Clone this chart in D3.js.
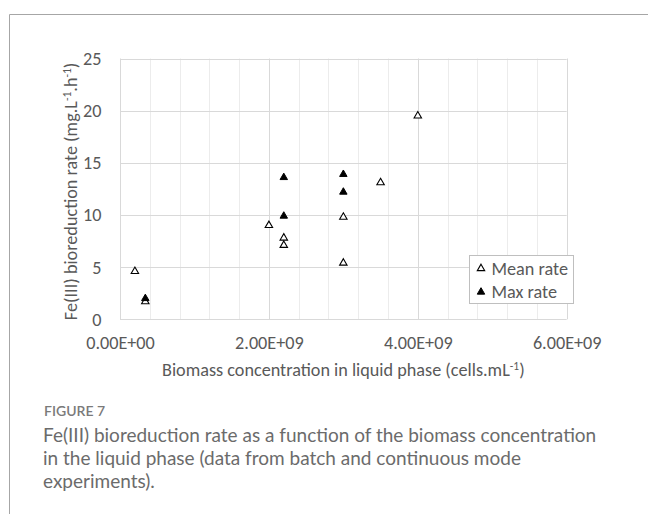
<!DOCTYPE html>
<html>
<head>
<meta charset="utf-8">
<script src="https://cdn.jsdelivr.net/npm/d3@7"></script>
<style>
  body { margin: 0; background: #fff; }
  svg { display: block; }
</style>
</head>
<body>
<svg width="648" height="514"></svg>
<script>
// data
var meanX = [2.0e8, 3.4e8, 2.0e9, 2.2e9, 2.2e9, 3.0e9, 3.0e9, 3.5e9, 4.0e9];
var meanY = [4.6, 1.7, 9.0, 7.8, 7.1, 9.8, 5.4, 13.1, 19.5];
var maxX = [3.4e8, 2.2e9, 2.2e9, 3.0e9, 3.0e9];
var maxY = [2.0, 13.6, 9.9, 13.9, 12.2];
var xTicks = [0, 2e9, 4e9, 6e9];
var yTicks = [0, 5, 10, 15, 20, 25];
var seriesNames = ["Mean rate", "Max rate"];
var captionLines = [
  "Fe(III) bioreduction rate as a function of the biomass concentration",
  "in the liquid phase (data from batch and continuous mode",
  "experiments)."
];

var svg = d3.select("svg");
var chartFont = "Carlito, Calibri, 'Open Sans', sans-serif";

// outer frame (top and left rule)
svg.append("path")
  .attr("d", "M9.5,514 V14.5 H648")
  .attr("fill", "none")
  .attr("stroke", "#a6a6a6")
  .attr("stroke-width", 1);

var x = d3.scaleLinear().domain([0, 6e9]).range([120, 566.7]);
var y = d3.scaleLinear().domain([0, 25]).range([319.3, 58.5]);

var g = svg.append("g");

// minor vertical grid every 4e8
var minor = d3.range(0, 6e9 + 1, 4e8).filter(function(v) { return v % 2e9 !== 0; });
g.selectAll(".minor")
  .data(minor)
  .enter()
  .append("line")
  .attr("x1", function(d) { return Math.round(x(d)) + 0.5; })
  .attr("x2", function(d) { return Math.round(x(d)) + 0.5; })
  .attr("y1", y(25))
  .attr("y2", y(0))
  .attr("stroke", "#ececec");

// major grid
g.selectAll(".vmajor")
  .data(xTicks)
  .enter()
  .append("line")
  .attr("x1", function(d) { return Math.round(x(d)) + 0.5; })
  .attr("x2", function(d) { return Math.round(x(d)) + 0.5; })
  .attr("y1", y(25))
  .attr("y2", y(0))
  .attr("stroke", "#d9d9d9");

g.selectAll(".hmajor")
  .data(yTicks)
  .enter()
  .append("line")
  .attr("x1", x(0))
  .attr("x2", x(6e9))
  .attr("y1", function(d) { return Math.round(y(d)) + 0.5; })
  .attr("y2", function(d) { return Math.round(y(d)) + 0.5; })
  .attr("stroke", "#d9d9d9");

// axes (labels only)
var xAxis = d3.axisBottom(x).tickValues(xTicks).tickSize(0).tickPadding(0)
  .tickFormat(function(d) {
    var s = d.toExponential(2).toUpperCase();
    return s.replace(/E([+-])(\d)$/, "E$10$2");
  });
var yAxis = d3.axisLeft(y).tickValues(yTicks).tickSize(0).tickPadding(0);

var gx = svg.append("g").attr("transform", "translate(0," + (y(0) + 30) + ")").call(xAxis);
var gy = svg.append("g").attr("transform", "translate(101.5,0)").call(yAxis);
[gx, gy].forEach(function(a) {
  a.select(".domain").remove();
  a.selectAll("text")
    .style("font-family", chartFont)
    .style("font-size", "18.2px")
    .attr("fill", "#595959");
});
gx.selectAll("text").attr("dy", 0);
gy.selectAll("text").attr("dy", "0.33em");

// axis titles
var xt = svg.append("text")
  .attr("x", (x(0) + x(6e9)) / 2)
  .attr("y", 376)
  .attr("text-anchor", "middle")
  .attr("font-family", chartFont)
  .attr("font-size", 18.2)
  .attr("fill", "#595959");
xt.append("tspan").text("Biomass concentration in liquid phase (cells.mL");
xt.append("tspan").attr("dy", -6).attr("font-size", 11.5).text("-1");
xt.append("tspan").attr("dy", 6).text(")");

var yt = svg.append("text")
  .attr("transform", "translate(77," + ((y(0) + y(25)) / 2 + 2.5) + ") rotate(-90)")
  .attr("text-anchor", "middle")
  .attr("font-family", chartFont)
  .attr("font-size", 18.2)
  .attr("fill", "#595959");
yt.append("tspan").text("Fe(III) bioreduction rate (mg.L");
yt.append("tspan").attr("dy", -6).attr("font-size", 11.5).text("-1");
yt.append("tspan").attr("dy", 6).text(".h");
yt.append("tspan").attr("dy", -6).attr("font-size", 11.5).text("-1");
yt.append("tspan").attr("dy", 6).text(")");

// markers
var tri = d3.symbol().type(d3.symbolTriangle).size(24);

svg.append("g").selectAll("path")
  .data(meanX)
  .enter()
  .append("path")
  .attr("d", tri)
  .attr("transform", function(d, i) { return "translate(" + x(d) + "," + y(meanY[i]) + ")"; })
  .attr("fill", "#fff")
  .attr("stroke", "#000")
  .attr("stroke-width", 1.1);

svg.append("g").selectAll("path")
  .data(maxX)
  .enter()
  .append("path")
  .attr("d", tri)
  .attr("transform", function(d, i) { return "translate(" + x(d) + "," + y(maxY[i]) + ")"; })
  .attr("fill", "#000")
  .attr("stroke", "#000")
  .attr("stroke-width", 1);

// legend
var lg = svg.append("g").attr("transform", "translate(469.5,255.5)");
lg.append("rect")
  .attr("width", 104)
  .attr("height", 48)
  .attr("fill", "#fff")
  .attr("stroke", "#bfbfbf");
var rows = lg.selectAll(".row")
  .data(seriesNames)
  .enter()
  .append("g")
  .attr("transform", function(d, i) { return "translate(0," + (13 + i * 23.5) + ")"; });
rows.append("path")
  .attr("d", tri)
  .attr("transform", "translate(11.5,0)")
  .attr("fill", function(d, i) { return i === 0 ? "#fff" : "#000"; })
  .attr("stroke", "#000")
  .attr("stroke-width", function(d, i) { return i === 0 ? 1.1 : 1; });
rows.append("text")
  .attr("x", 22)
  .attr("dy", "0.35em")
  .attr("font-family", chartFont)
  .attr("font-size", 18.2)
  .attr("fill", "#595959")
  .text(function(d) { return d; });

// caption
svg.append("text")
  .attr("x", 44)
  .attr("y", 415.5)
  .attr("font-family", "Lato, 'Open Sans', sans-serif")
  .attr("font-size", 14)
  .attr("font-weight", 600)
  .attr("fill", "#7a7a7a")
  .text("FIGURE 7");

svg.append("g").selectAll("text")
  .data(captionLines)
  .enter()
  .append("text")
  .attr("x", 43)
  .attr("y", function(d, i) { return 441.5 + i * 23.4; })
  .attr("font-family", "Lato, 'Open Sans', sans-serif")
  .attr("font-size", 19)
  .attr("fill", "#6b6b6b")
  .text(function(d) { return d; });
</script>
</body>
</html>
